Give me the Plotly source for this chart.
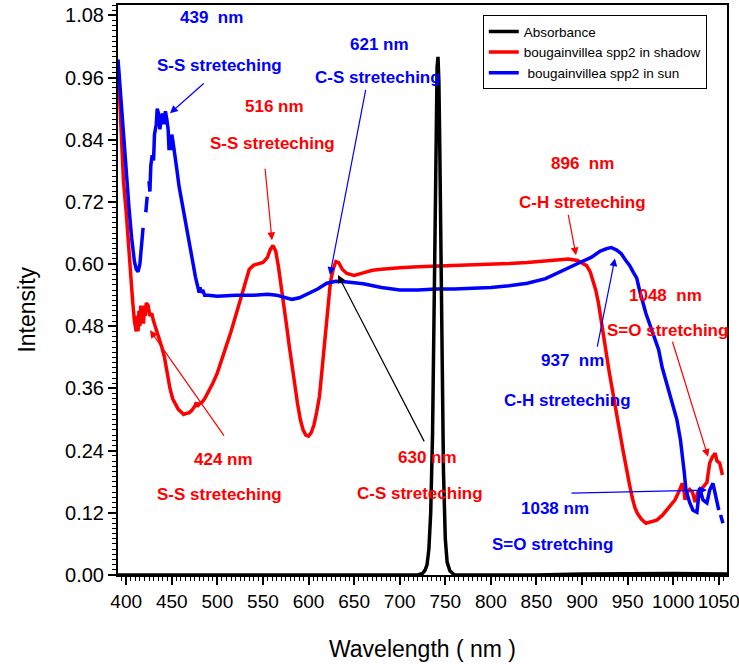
import plotly.graph_objects as go

# ---------------- data ----------------
wl_abs = [391, 450, 500, 550, 600, 650, 700, 720, 725, 728, 730, 732, 734, 736, 738, 739, 740,
          741, 742, 743, 744, 745, 746, 748, 750, 752, 755, 760, 800, 850, 900, 950, 1000, 1059]
abs_vals = [0, 0, 0, 0, 0, 0, 0, 0.0, 0.003, 0.01, 0.02, 0.05, 0.12, 0.27, 0.55, 0.72, 0.88,
            0.98, 1.0, 0.95, 0.82, 0.66, 0.48, 0.2, 0.07, 0.025, 0.008, 0.0, 0, 0, 0.002, 0.003, 0.003, 0.002]

wl_shadow = [391, 394, 397, 400, 403, 405, 407, 409, 411, 412, 413, 414, 415, 416, 417, 418, 419,
             420, 421, 422, 424, 426, 428, 430, 433, 436, 439, 442, 445, 448, 451, 454, 457, 460,
             463, 466, 469, 472, 475, 477, 478, 480, 483, 486, 490, 495, 500, 505, 510, 515, 520,
             525, 530, 535, 540, 545, 550, 555, 558, 561, 564, 567, 570, 573, 576, 579, 582, 585,
             588, 591, 594, 597, 600, 603, 606, 609, 612, 615, 618, 621, 624, 627, 630, 633, 637,
             642, 650, 660, 670, 680, 690, 700, 720, 740, 760, 780, 800, 820, 840, 860, 875, 885,
             895, 900, 905, 909, 912, 915, 918, 921, 924, 927, 930, 934, 938, 942, 945, 949, 952,
             955, 958, 961, 965, 970, 975, 982, 988, 993, 998, 1002, 1006, 1010, 1012, 1013, 1015,
             1018, 1021, 1024, 1027, 1030, 1033, 1037, 1040, 1043, 1046, 1048, 1051, 1054]
shadow_vals = [0.99, 0.86, 0.76, 0.70, 0.62, 0.57, 0.53, 0.49, 0.47, 0.50, 0.47, 0.51, 0.48, 0.52,
               0.50, 0.515, 0.485, 0.52, 0.50, 0.525, 0.52, 0.50, 0.505, 0.49, 0.475, 0.46, 0.44,
               0.42, 0.39, 0.36, 0.34, 0.33, 0.32, 0.315, 0.31, 0.312, 0.313, 0.318, 0.325, 0.333,
               0.325, 0.33, 0.333, 0.34, 0.352, 0.37, 0.39, 0.415, 0.44, 0.47, 0.50, 0.53, 0.565,
               0.59, 0.598, 0.60, 0.603, 0.613, 0.628, 0.636, 0.625, 0.595, 0.56, 0.52, 0.48, 0.44,
               0.40, 0.36, 0.33, 0.30, 0.28, 0.27, 0.268, 0.275, 0.29, 0.315, 0.345, 0.40, 0.46,
               0.52, 0.565, 0.59, 0.605, 0.603, 0.59, 0.582, 0.578, 0.583, 0.588, 0.59, 0.592,
               0.593, 0.595, 0.596, 0.597, 0.598, 0.600, 0.601, 0.603, 0.606, 0.609, 0.61, 0.607,
               0.602, 0.597, 0.585, 0.57, 0.55, 0.525, 0.49, 0.46, 0.43, 0.39, 0.35, 0.305, 0.27,
               0.24, 0.20, 0.175, 0.15, 0.13, 0.118, 0.108, 0.10, 0.102, 0.106, 0.115, 0.125, 0.135,
               0.145, 0.16, 0.177, 0.16, 0.145, 0.16, 0.165, 0.16, 0.141, 0.16, 0.165, 0.17, 0.179,
               0.216, 0.228, 0.235, 0.22, 0.216, 0.193]

wl_sun = [391, 394, 397, 400, 403, 406, 409, 411, 413, 415, 417, 418.5, 420, 421.5, 423, 424, 425,
          426, 427, 428.5, 430, 431, 433, 434, 435.5, 437, 438.5, 440, 441.5, 443, 444.5, 446, 447,
          448, 449, 450, 451, 453, 455, 458, 461, 464, 467, 470, 473, 476, 478, 480, 481, 482, 484,
          486, 490, 500, 520, 540, 555, 565, 575, 582, 590, 600, 610, 620, 630, 640, 660, 680, 700,
          720, 740, 760, 780, 800, 820, 840, 860, 875, 890, 900, 910, 920, 927, 932, 938, 943, 948,
          952, 956, 960, 963, 966, 970, 975, 980, 984, 988, 992, 996, 1000, 1004, 1008, 1010, 1012,
          1014, 1018, 1021.7, 1026, 1029, 1032.7, 1037, 1040, 1043.6, 1045.8, 1048, 1050, 1051,
          1052, 1054.5]
sun_vals = [0.995, 0.92, 0.84, 0.77, 0.71, 0.65, 0.605, 0.59, 0.585, 0.60, 0.635, 0.67, None, 0.70,
            0.73, None, 0.76, 0.74, 0.79, 0.81, 0.80, 0.85, 0.87, 0.90, 0.89, 0.86, 0.885, 0.89,
            0.87, 0.895, 0.88, 0.86, 0.82, 0.84, 0.82, 0.85, 0.84, 0.81, 0.79, 0.75, 0.72, 0.69,
            0.66, 0.63, 0.60, 0.575, 0.56, 0.545, 0.555, 0.545, 0.55, 0.54, 0.54, 0.538, 0.54, 0.54,
            0.542, 0.54, 0.535, 0.532, 0.535, 0.543, 0.552, 0.563, 0.567, 0.566, 0.562, 0.555,
            0.55, 0.55, 0.552, 0.552, 0.553, 0.555, 0.558, 0.563, 0.572, 0.585, 0.597, 0.605,
            0.613, 0.625, 0.63, 0.632, 0.627, 0.62, 0.607, 0.598, 0.585, 0.573, 0.55, 0.53, 0.505,
            0.48, 0.455, 0.435, 0.40, 0.376, 0.35, 0.325, 0.30, 0.26, 0.235, 0.2, 0.164, 0.14,
            0.125, 0.121, 0.168, 0.145, 0.139, 0.164, 0.177, 0.160, 0.139, 0.125, None, 0.116,
            0.10]

x_tick_start, x_tick_step = 400, 50
y_tick_start, y_tick_step = 0.0, 0.12

# ---------------- figure ----------------
FONT = "Liberation Sans, Arial, sans-serif"
fig = go.Figure()
fig.add_trace(go.Scatter(x=wl_shadow, y=shadow_vals, mode="lines", name="bougainvillea spp2 in shadow",
                         line=dict(color="#ff0000", width=3.5), legendrank=2))
fig.add_trace(go.Scatter(x=wl_sun, y=sun_vals, mode="lines", name=" bougainvillea spp2 in sun",
                         line=dict(color="#0000ff", width=3.5), legendrank=3))
fig.add_trace(go.Scatter(x=wl_abs, y=abs_vals, mode="lines", name="Absorbance",
                         line=dict(color="#000000", width=3.5), legendrank=1))

# text labels: (text, x, y, color)
labels = [
    ("439  nm", 494, 1.076, "blue"),
    ("S-S streteching", 502, 0.984, "blue"),
    ("621 nm", 678, 1.024, "blue"),
    ("C-S streteching", 676, 0.960, "blue"),
    ("516 nm", 563, 0.905, "red"),
    ("S-S streteching", 560, 0.833, "red"),
    ("896  nm", 901, 0.795, "red"),
    ("C-H streteching", 901, 0.719, "red"),
    ("1048  nm", 991, 0.540, "red"),
    ("S=O stretching", 994, 0.4725, "red"),
    ("937  nm", 890, 0.413, "blue"),
    ("C-H streteching", 883.5, 0.3375, "blue"),
    ("424 nm", 507, 0.222, "red"),
    ("S-S streteching", 502, 0.156, "red"),
    ("630 nm", 731, 0.2276, "red"),
    ("C-S streteching", 722, 0.158, "red"),
    ("1038 nm", 870, 0.129, "blue"),
    ("S=O stretching", 868, 0.058, "blue"),
]
for t, x, y, c in labels:
    fig.add_annotation(x=x, y=y, xref="x", yref="y", text=f"<b>{t}</b>", showarrow=False,
                       font=dict(family=FONT, size=17, color=c), xanchor="center", yanchor="middle")

# arrows: (tail x, tail y, head x, head y, color)
arrows = [
    (486.6, 0.951, 448.0, 0.891, "blue"),
    (663.0, 0.939, 623.5, 0.579, "blue"),
    (552.2, 0.787, 559.9, 0.646, "red"),
    (508.4, 0.266, 426.1, 0.4725, "red"),
    (727.7, 0.255, 632.3, 0.579, "black"),
    (884.6, 0.698, 893.4, 0.617, "red"),
    (916.4, 0.438, 936.1, 0.611, "blue"),
    (998.7, 0.453, 1038.2, 0.228, "red"),
    (886.8, 0.158, 1037.1, 0.164, "blue"),
]
for tx, ty, hx, hy, c in arrows:
    fig.add_annotation(x=hx, y=hy, ax=tx, ay=ty, xref="x", yref="y", axref="x", ayref="y",
                       text="", showarrow=True, arrowhead=2, arrowsize=1.3, arrowwidth=1.2,
                       arrowcolor=c)

# y-axis title placed as rotated text
fig.add_annotation(x=-0.15, xref="paper", y=0.465, yref="paper", text="Intensity", textangle=-90,
                   showarrow=False, xanchor="center", yanchor="middle",
                   font=dict(family=FONT, size=23, color="black"))

fig.update_layout(
    width=739, height=668,
    margin=dict(l=118, r=12, t=5, b=93, autoexpand=False),
    paper_bgcolor="white", plot_bgcolor="white",
    font=dict(family=FONT, color="black"),
    showlegend=True,
    legend=dict(x=0.599, y=0.982, xanchor="left", yanchor="top",
                bordercolor="black", borderwidth=1, bgcolor="white",
                font=dict(family=FONT, size=13.5), tracegroupgap=0),
)
fig.update_xaxes(
    range=[391, 1059], tickmode="linear", tick0=x_tick_start, dtick=x_tick_step,
    ticks="outside", ticklen=8, tickwidth=1.5, tickcolor="black", ticklabeloverflow="allow",
    automargin=False,
    minor=dict(tickmode="linear", tick0=x_tick_start, dtick=5, ticks="outside", ticklen=4,
               tickcolor="black", tickwidth=1),
    showline=True, linecolor="black", linewidth=2, mirror=True, showgrid=False, zeroline=False,
    tickfont=dict(family=FONT, size=19),
    title=dict(text="Wavelength ( nm )", font=dict(family=FONT, size=23), standoff=30),
)
fig.update_yaxes(
    range=[0, 1.1], tickmode="linear", tick0=y_tick_start, dtick=y_tick_step, tickformat=".2f",
    ticks="outside", ticklen=8, tickwidth=1.5, tickcolor="black", automargin=False,
    minor=dict(tickmode="linear", tick0=0, dtick=0.01, ticks="outside", ticklen=4,
               tickcolor="black", tickwidth=1),
    showline=True, linecolor="black", linewidth=2, mirror=True, showgrid=False, zeroline=False,
    tickfont=dict(family=FONT, size=20),
)

fig.write_html("out.html")
